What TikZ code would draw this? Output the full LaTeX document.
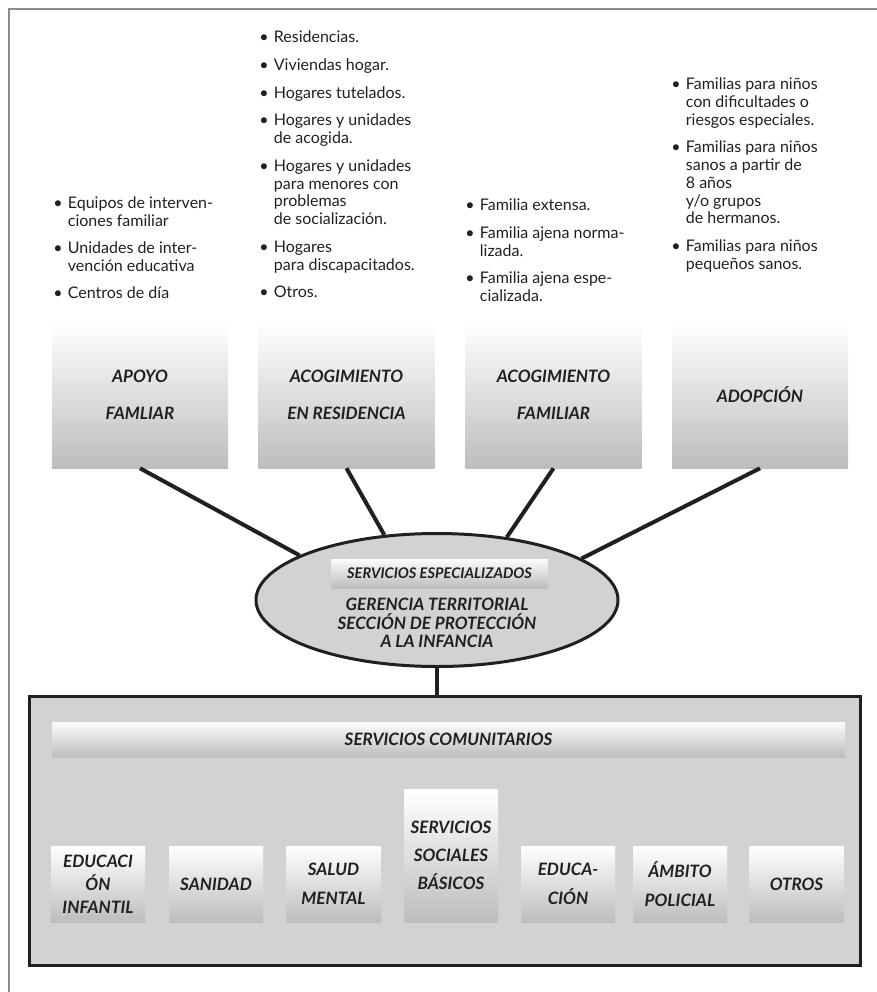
\documentclass[tikz,border=0pt]{standalone}
\usepackage{fontspec}
\setmainfont{Lato}
\usetikzlibrary{shapes.geometric}
\definecolor{inkdark}{HTML}{231F20}
\definecolor{framegray}{HTML}{8C8C8E}
\definecolor{panelgray}{HTML}{D1D2D4}
\definecolor{shadegray}{HTML}{BCBDC0}
\newcommand{\boxtitle}{\fontsize{12.8}{15.4}\selectfont\bfseries\itshape}
\newcommand{\hubtitle}{\fontsize{12.8}{13.9}\selectfont\bfseries\itshape}
\newcommand{\listtext}{\fontsize{12}{13.3}\selectfont}
\newcommand{\bl}{\textbullet}

\begin{document}
\begin{tikzpicture}[x=0.75pt, y=-0.75pt,
    every node/.style={text=inkdark},
    topbox/.style={minimum width=132pt, minimum height=109.5pt, inner sep=0pt,
        top color=white, bottom color=shadegray, align=center, font=\boxtitle},
    smallbox/.style={minimum width=70.5pt, minimum height=57pt, inner sep=0pt,
        top color=white, bottom color=shadegray, align=center, font=\boxtitle},
    bar/.style={inner sep=0pt, top color=white!95!shadegray, bottom color=shadegray,
        font=\boxtitle},
    hub/.style={ellipse, draw=inkdark, line width=2.25pt, fill=panelgray,
        minimum width=271.5pt, minimum height=99.75pt, inner sep=0pt},
    itemlist/.style={anchor=north west, inner sep=0pt, align=left, font=\listtext},
    link/.style={line width=3pt, inkdark}]
    \useasboundingbox (0,0) rectangle (877,992);

    % Frame
    \draw[framegray, line width=1.7pt] (9,992) -- (9,9) -- (877,9);

    % Lists above the boxes
    \node[itemlist] (lapoyo) at (53,196) {\begin{tabular}{@{}l@{\hspace{4pt}}l@{}}
        \bl & Equipos de interven-\\ & ciones familiar\\[7pt]
        \bl & Unidades de inter-\\ & vención educativa\\[7pt]
        \bl & Centros de día\end{tabular}};
    \node[itemlist] (lresid) at (259,30) {\begin{tabular}{@{}l@{\hspace{4pt}}l@{}}
        \bl & Residencias.\\[7.5pt]
        \bl & Viviendas hogar.\\[7.5pt]
        \bl & Hogares tutelados.\\[7.5pt]
        \bl & Hogares y unidades\\ & de acogida.\\[7.5pt]
        \bl & Hogares y unidades\\ & para menores con\\ & problemas\\ & de socialización.\\[7.5pt]
        \bl & Hogares\\ & para discapacitados.\\[7.5pt]
        \bl & Otros.\end{tabular}};
    \node[itemlist] (lfamil) at (465,198) {\begin{tabular}{@{}l@{\hspace{4pt}}l@{}}
        \bl & Familia extensa.\\[7.5pt]
        \bl & Familia ajena norma-\\ & lizada.\\[7.5pt]
        \bl & Familia ajena espe-\\ & cializada.\end{tabular}};
    \node[itemlist] (ladop) at (671,77) {\begin{tabular}{@{}l@{\hspace{4pt}}l@{}}
        \bl & Familias para niños\\ & con dificultades o\\ & riesgos especiales.\\[7.5pt]
        \bl & Familias para niños\\ & sanos a partir de\\ & 8 años\\ & y/o grupos\\ & de hermanos.\\[7.5pt]
        \bl & Familias para niños\\ & pequeños sanos.\end{tabular}};

    % Specialised services
    \node[topbox] (apoyo) at (140,395) {APOYO\\[12.4pt]FAMLIAR};
    \node[topbox] (resid) at (346.5,395) {ACOGIMIENTO\\[12.4pt]EN RESIDENCIA};
    \node[topbox] (famil) at (553.5,395) {ACOGIMIENTO\\[12.4pt]FAMILIAR};
    \node[topbox] (adop) at (760,395) {ADOPCIÓN};

    % Community services
    \node[draw=inkdark, line width=2.25pt, fill=panelgray, minimum width=623pt,
        minimum height=202pt, inner sep=0pt] (comun) at (445,831) {};
    \node[bar, minimum width=594.75pt, minimum height=26.25pt] (combar) at (448.5,739.5)
        {SERVICIOS COMUNITARIOS};
    \node[smallbox] (educinf) at (98,884) {EDUCACI\\[1.9pt]ÓN\\[1.9pt]INFANTIL};
    \node[smallbox] (sanidad) at (216,884) {SANIDAD};
    \node[smallbox] (salud) at (333.5,884) {SALUD\\[6pt]MENTAL};
    \node[smallbox, minimum height=99.75pt] (ssb) at (451,855.5)
        {SERVICIOS\\[5.6pt]SOCIALES\\[5.6pt]BÁSICOS};
    \node[smallbox] (educ) at (568,884) {EDUCA-\\[6pt]CIÓN};
    \node[smallbox] (policia) at (680,884) {ÁMBITO\\[6pt]POLICIAL};
    \node[smallbox] (otros) at (796.5,884) {OTROS};

    % Central node
    \node[hub] (ger) at (437,600) {};
    \node[bar, minimum width=162.75pt, minimum height=21.75pt,
        font=\fontsize{11}{12}\selectfont\bfseries\itshape] (espec) at (439.5,573.5)
        {SERVICIOS ESPECIALIZADOS};
    \node[align=center, font=\hubtitle, inner sep=0pt] (gertxt) at (437,623)
        {GERENCIA TERRITORIAL\\SECCIÓN DE PROTECCIÓN\\A LA INFANCIA};

    % Connectors
    \draw[link] (apoyo.south) -- (ger.162);
    \draw[link] (resid.south) -- (ger.129);
    \draw[link] (famil.south) -- (ger.42);
    \draw[link] (adop.south) -- (ger.16);
    \draw[link] (ger.south) -- (ger.south |- comun.north);
\end{tikzpicture}
\end{document}
